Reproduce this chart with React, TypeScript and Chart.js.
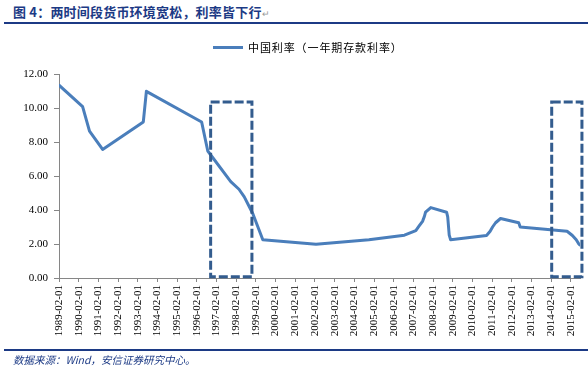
import React, { useEffect, useRef } from "react";
import { Chart, registerables } from "chart.js";

Chart.register(...registerables);

const TITLE = "图 4：两时间段货币环境宽松，利率皆下行";
const SOURCE = "数据来源：Wind，安信证券研究中心。";
const SERIES_NAME = "中国利率（一年期存款利率）";

// dates of rate changes and one-year deposit rate (%)
const DATES = [
  "1989-02-01", "1990-04-15", "1990-08-21", "1991-04-21", "1993-05-15", "1993-07-11",
  "1996-05-01", "1996-08-23", "1997-10-23", "1998-03-25", "1998-07-01", "1998-12-07",
  "1999-06-10", "2002-02-21", "2004-10-29", "2006-08-19", "2007-03-18", "2007-05-19",
  "2007-07-21", "2007-08-22", "2007-09-15", "2007-12-21", "2008-10-09", "2008-10-30",
  "2008-11-27", "2008-12-23", "2010-10-20", "2010-12-26", "2011-02-09", "2011-04-06",
  "2011-07-07", "2012-06-08", "2012-07-06", "2014-11-22", "2015-03-01", "2015-05-11",
  "2015-06-28", "2015-07-15",
];
const RATES = [
  11.34, 10.08, 8.64, 7.56, 9.18, 10.98,
  9.18, 7.47, 5.67, 5.22, 4.77, 3.78,
  2.25, 1.98, 2.25, 2.52, 2.79, 3.06,
  3.33, 3.6, 3.87, 4.14, 3.87, 3.6,
  2.52, 2.25, 2.5, 2.75, 3.0, 3.25,
  3.5, 3.25, 3.0, 2.75, 2.5, 2.25,
  2.0, 1.95,
];

const TICK_LABELS = [
  "1989-02-01", "1990-02-01", "1991-02-01", "1992-02-01", "1993-02-01", "1994-02-01",
  "1995-02-01", "1996-02-01", "1997-02-01", "1998-02-01", "1999-02-01", "2000-02-01",
  "2001-02-01", "2002-02-01", "2003-02-01", "2004-02-01", "2005-02-01", "2006-02-01",
  "2007-02-01", "2008-02-01", "2009-02-01", "2010-02-01", "2011-02-01", "2012-02-01",
  "2013-02-01", "2014-02-01", "2015-02-01",
];
const AXIS_END = "2015-07-20";
const Y_MIN = 0;
const Y_MAX = 12;
const Y_STEP = 2;

// dashed highlight boxes
const BOX_STARTS = ["1996-10-15", "2014-02-10"];
const BOX_ENDS = ["1998-11-20", "2015-08-25"];
const BOX_TOP = 10.35;
const BOX_BOTTOM = 0.08;

const toDay = (s: string) => {
  const [y, m, d] = s.split("-").map(Number);
  return Date.UTC(y, m - 1, d) / 86400000;
};

const NAVY = "#1c3a85";
const LINE_BLUE = "#4a7ebb";
const BOX_BLUE = "#335c8e";
const AXIS_GRAY = "#868686";
const TICK_FONT = { family: "'Liberation Serif', 'Times New Roman', serif", size: 11 };

const boxPlugin = {
  id: "dashedBoxes",
  afterDatasetsDraw(chart: any) {
    const { ctx, scales } = chart;
    const xs = scales.x;
    const ys = scales.y;
    ctx.save();
    ctx.strokeStyle = BOX_BLUE;
    ctx.lineWidth = 3;
    ctx.setLineDash([9, 3]);
    for (let i = 0; i < BOX_STARTS.length; i++) {
      const x1 = xs.getPixelForValue(toDay(BOX_STARTS[i]));
      const x2 = xs.getPixelForValue(toDay(BOX_ENDS[i]));
      const y1 = ys.getPixelForValue(BOX_TOP);
      const y2 = ys.getPixelForValue(BOX_BOTTOM);
      ctx.strokeRect(x1, y1, x2 - x1, y2 - y1);
    }
    ctx.restore();
  },
};

export default function App() {
  const ref = useRef<HTMLCanvasElement | null>(null);

  useEffect(() => {
    if (!ref.current) return;
    const chart = new Chart(ref.current, {
      type: "line",
      data: {
        datasets: [
          {
            label: SERIES_NAME,
            data: DATES.map((d, i) => ({ x: toDay(d), y: RATES[i] })),
            borderColor: LINE_BLUE,
            backgroundColor: LINE_BLUE,
            borderWidth: 3,
            pointRadius: 0,
            tension: 0,
            fill: false,
            borderJoinStyle: "round",
            borderCapStyle: "round",
          },
        ],
      },
      options: {
        animation: false,
        responsive: false,
        devicePixelRatio: 1,
        layout: { padding: { left: 8, right: 8, top: 74, bottom: 10 } },
        plugins: {
          legend: { display: false },
          tooltip: { enabled: false },
        },
        scales: {
          x: {
            type: "linear",
            min: toDay(TICK_LABELS[0]),
            max: toDay(AXIS_END),
            afterBuildTicks: (s: any) => {
              s.ticks = TICK_LABELS.map((l) => ({ value: toDay(l) }));
            },
            afterFit: (s: any) => {
              s.height = 62;
            },
            ticks: {
              autoSkip: false,
              minRotation: 90,
              maxRotation: 90,
              padding: 3,
              color: "#000",
              font: TICK_FONT,
              callback: (_v: any, i: number) => TICK_LABELS[i],
            },
            grid: {
              display: true,
              drawOnChartArea: false,
              drawTicks: true,
              tickLength: 4,
              color: AXIS_GRAY,
            },
            border: { display: true, color: AXIS_GRAY, width: 1 },
          },
          y: {
            min: Y_MIN,
            max: Y_MAX,
            afterFit: (s: any) => {
              s.width = 51;
            },
            ticks: {
              stepSize: Y_STEP,
              padding: 6,
              color: "#000",
              font: TICK_FONT,
              callback: (v: any) => Number(v).toFixed(2),
            },
            grid: {
              display: true,
              drawOnChartArea: false,
              drawTicks: true,
              tickLength: 5,
              color: AXIS_GRAY,
            },
            border: { display: true, color: AXIS_GRAY, width: 1 },
          },
        },
      },
      plugins: [boxPlugin],
    } as any);
    return () => chart.destroy();
  }, []);

  return (
    <div
      style={{
        position: "absolute",
        left: 0,
        top: 0,
        width: 588,
        height: 374,
        background: "#fff",
        overflow: "hidden",
        fontFamily: "'Noto Sans CJK SC', sans-serif",
      }}
    >
      <div
        style={{
          position: "absolute",
          left: 13,
          top: 3,
          fontSize: 13,
          lineHeight: "18px",
          fontWeight: 700,
          color: NAVY,
          whiteSpace: "nowrap",
          letterSpacing: 0.2,
        }}
      >
        {TITLE}
        <span style={{ color: "#999", fontWeight: 400, fontSize: 9 }}>↵</span>
      </div>
      <div style={{ position: "absolute", left: 4, top: 22, width: 584, height: 2, background: NAVY }} />
      <canvas
        ref={ref}
        width={588}
        height={350}
        style={{ position: "absolute", left: 0, top: 0, width: 588, height: 350 }}
      />
      <div
        style={{
          position: "absolute",
          left: 213,
          top: 38,
          height: 18,
          display: "flex",
          alignItems: "center",
          whiteSpace: "nowrap",
        }}
      >
        <span style={{ display: "inline-block", width: 30, height: 3, background: LINE_BLUE, marginRight: 5 }} />
        <span style={{ fontSize: 11, color: "#000", letterSpacing: 0.9 }}>{SERIES_NAME}</span>
      </div>
      <div style={{ position: "absolute", left: 4, top: 349, width: 584, height: 2, background: NAVY }} />
      <div
        style={{
          position: "absolute",
          left: 13,
          top: 352,
          fontSize: 10.5,
          lineHeight: "15px",
          fontStyle: "italic",
          color: NAVY,
          whiteSpace: "nowrap",
        }}
      >
        {SOURCE}
      </div>
    </div>
  );
}
